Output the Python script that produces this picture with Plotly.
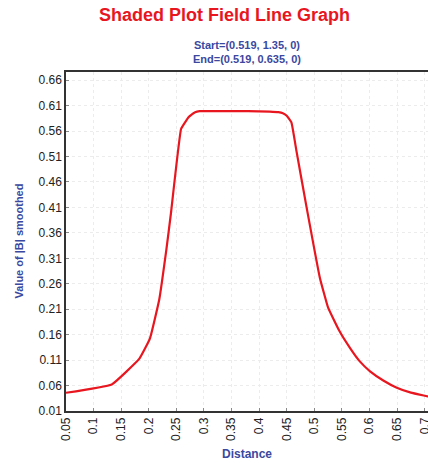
import plotly.graph_objects as go

# Data
distance = [0.05, 0.133, 0.183, 0.202, 0.219, 0.232, 0.240, 0.2585, 0.2676, 0.272, 0.277, 0.284, 0.292,
            0.33, 0.38, 0.419, 0.435, 0.443, 0.450, 0.4585, 0.4676, 0.486, 0.510, 0.525, 0.545, 0.5645,
            0.582, 0.601, 0.625, 0.6495, 0.675, 0.704, 0.72]
b_smoothed = [0.0458, 0.0622, 0.1128, 0.152, 0.229, 0.328, 0.397, 0.564, 0.580, 0.587, 0.592, 0.597, 0.599,
              0.599, 0.599, 0.598, 0.597, 0.595, 0.590, 0.577, 0.521, 0.410, 0.272, 0.213, 0.168, 0.134,
              0.108, 0.088, 0.070, 0.0557, 0.046, 0.039, 0.035]

x_ticks = [0.05, 0.1, 0.15, 0.2, 0.25, 0.3, 0.35, 0.4, 0.45, 0.5, 0.55, 0.6, 0.65, 0.7]
x_tick_text = ["0.05", "0.1", "0.15", "0.2", "0.25", "0.3", "0.35", "0.4", "0.45", "0.5",
               "0.55", "0.6", "0.65", "0.7"]
y_ticks = [0.01, 0.06, 0.11, 0.16, 0.21, 0.26, 0.31, 0.36, 0.41, 0.46, 0.51, 0.56, 0.61, 0.66]
y_tick_text = ["0.01", "0.06", "0.11", "0.16", "0.21", "0.26", "0.31", "0.36", "0.41",
               "0.46", "0.51", "0.56", "0.61", "0.66"]

RED = "#e8161f"
BLUE = "#3b48a0"
FONT = "Liberation Sans, Arial, sans-serif"

fig = go.Figure()
fig.add_trace(go.Scatter(x=distance, y=b_smoothed, mode="lines",
                         line=dict(color=RED, width=2.2, shape="spline", smoothing=0.3),
                         showlegend=False, hoverinfo="skip"))

fig.update_layout(
    width=428, height=463,
    margin=dict(l=66, r=0, t=72, b=52),
    paper_bgcolor="white", plot_bgcolor="white",
    font=dict(family=FONT, size=12, color="#222"),
    xaxis=dict(range=[0.05, 0.706], tickvals=x_ticks, ticktext=x_tick_text,
               tickangle=-90, ticks="inside", ticklen=3, tickcolor="#888",
               showline=True, linecolor="#333", linewidth=1.5, mirror=True,
               showgrid=True, gridcolor="#ececec", griddash="dot", zeroline=False,
               automargin=False, ticklabeloverflow="allow",
               tickfont=dict(size=12, color="#222")),
    yaxis=dict(range=[0.01, 0.676], tickvals=y_ticks, ticktext=y_tick_text,
               ticks="inside", ticklen=3, tickcolor="#888",
               showline=True, linecolor="#333", linewidth=1.5, mirror=False,
               showgrid=True, gridcolor="#ececec", griddash="dot", zeroline=False,
               automargin=False, ticklabeloverflow="allow",
               tickfont=dict(size=12, color="#222")),
    annotations=[
        dict(text="<b>Shaded Plot Field Line Graph</b>", xref="paper", yref="paper",
             x=(224 - 66) / 362, y=1 + (72 - 15) / 339, xanchor="center", yanchor="middle",
             showarrow=False, font=dict(family=FONT, size=18, color=RED)),
        dict(text="<b>Start=(0.519, 1.35, 0)<br>End=(0.519, 0.635, 0)</b>", xref="paper", yref="paper",
             x=0.5, y=1 + (72 - 52) / 339, xanchor="center", yanchor="middle",
             showarrow=False, font=dict(family=FONT, size=11, color=BLUE)),
        dict(text="<b>Value of |B| smoothed</b>", xref="paper", yref="paper",
             x=-(66 - 18) / 362, y=0.5, xanchor="center", yanchor="middle", textangle=-90,
             showarrow=False, font=dict(family=FONT, size=11, color=BLUE)),
        dict(text="<b>Distance</b>", xref="paper", yref="paper",
             x=0.5, y=-(454 - 411) / 339, xanchor="center", yanchor="middle",
             showarrow=False, font=dict(family=FONT, size=12, color=BLUE)),
    ],
)

fig.write_html("out.html", config={"displayModeBar": False},
               post_script="document.body.style.margin='0';document.body.style.overflow='hidden';")
